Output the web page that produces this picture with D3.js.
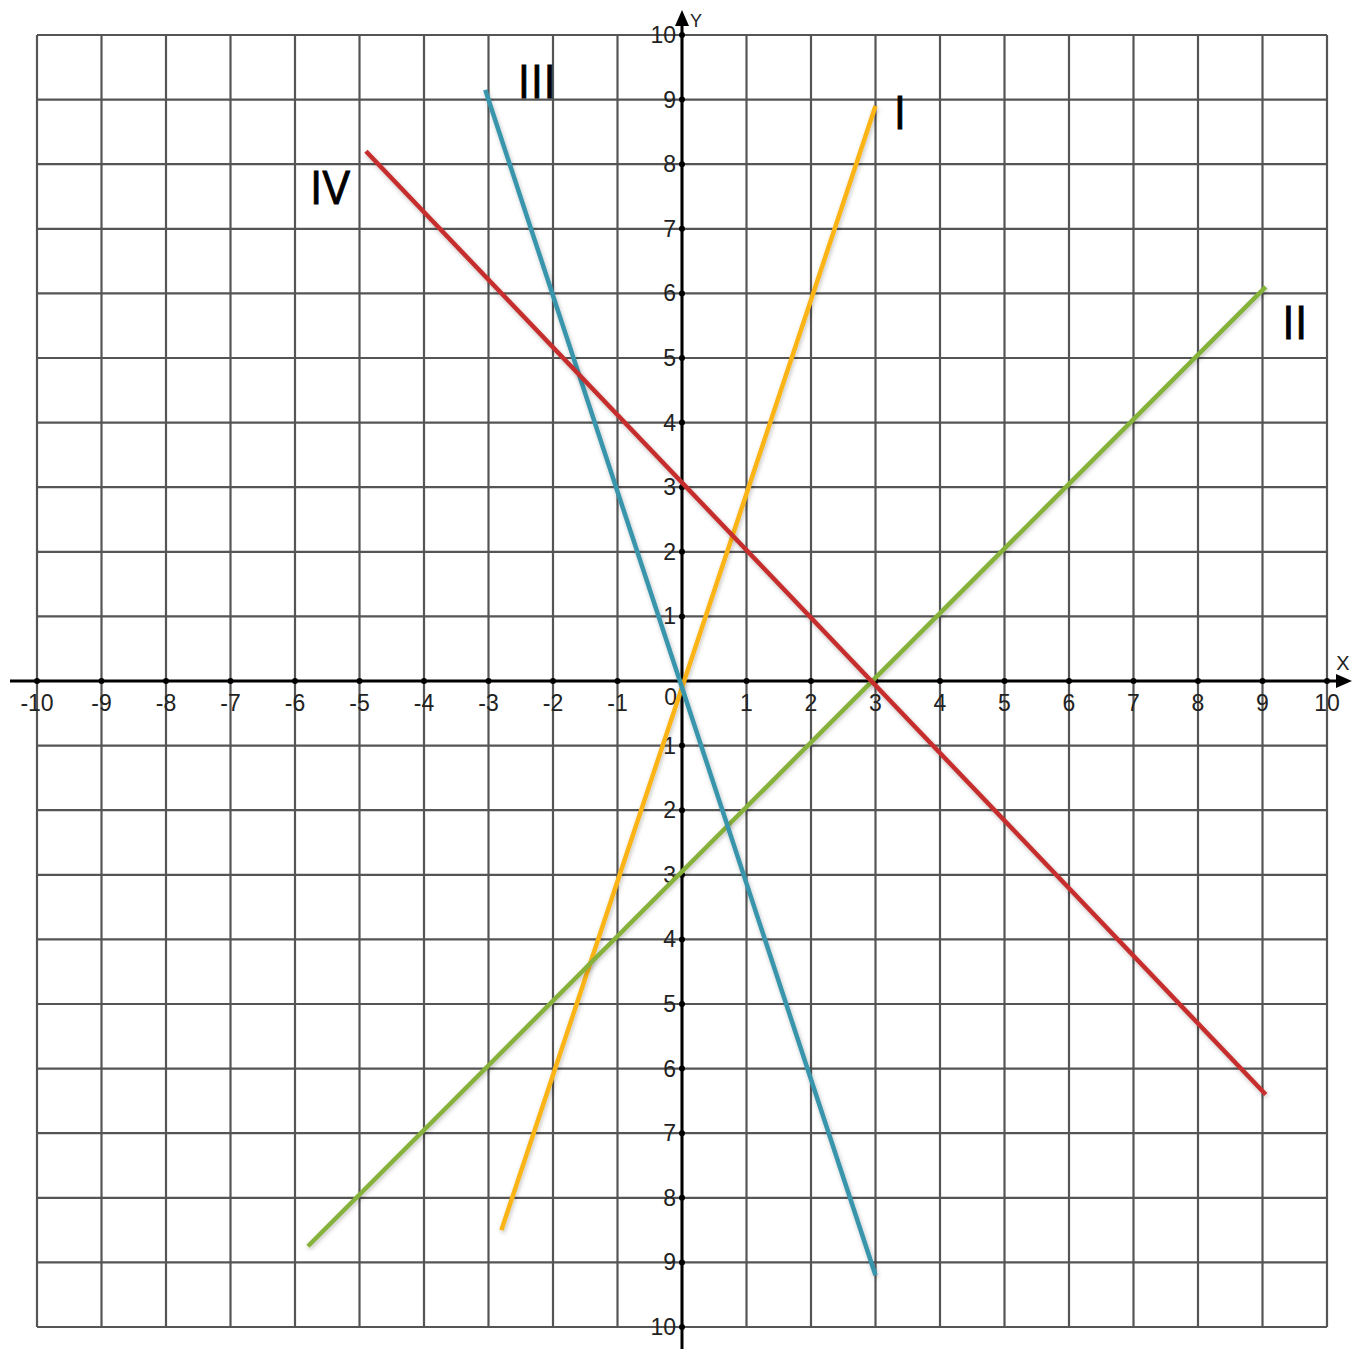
<!DOCTYPE html>
<html>
  <head>
    <meta charset="UTF-8" />
    <title>Four lines</title>
    <style>
      body { margin: 0; background: #fff; }
      .tick-label { font-family: "Liberation Sans", Arial, sans-serif; font-size: 23px; fill: #222; }
      .roman { font-family: "Open Sans", "DejaVu Sans", sans-serif; font-size: 46px; fill: #000; stroke: #000; stroke-width: 0.8px; }
    </style>
    <script src="https://d3js.org/d3.v7.min.js"></script>
  </head>
  <body>
    <svg id="viz" width="1353" height="1349"></svg>
    <script>
      // grid and ticks
      var gridValues = d3.range(-10, 11);
      var xTickLabels = ["-10","-9","-8","-7","-6","-5","-4","-3","-2","-1","1","2","3","4","5","6","7","8","9","10"];
      var xTickValues = [-10,-9,-8,-7,-6,-5,-4,-3,-2,-1,1,2,3,4,5,6,7,8,9,10];
      var yTickValues = [10,9,8,7,6,5,4,3,2,1,-1,-2,-3,-4,-5,-6,-7,-8,-9,-10];
      var yTickLabels = ["10","9","8","7","6","5","4","3","2","1","1","2","3","4","5","6","7","8","9","10"];

      // lines (endpoints in graph units)
      var lineNames = ["I", "II", "III", "IV"];
      var lineColors = ["#fbb414", "#86b13a", "#3795ab", "#c62f2f"];
      var lineStarts = [[-2.8, -8.5], [-5.8, -8.75], [-3.05, 9.15], [-4.9, 8.2]];
      var lineEnds = [[3.0, 8.9], [9.05, 6.1], [3.0, -9.2], [9.05, -6.4]];
      var labelPos = [[3.38, 8.55], [9.5, 5.29], [-2.25, 9.02], [-5.46, 7.38]];

      var svg = d3.select("#viz");
      var x = d3.scaleLinear().domain([-10, 10]).range([37, 1327]);
      var y = d3.scaleLinear().domain([-10, 10]).range([1327, 35]);

      // grid
      var grid = svg.append("g").attr("stroke", "#555").attr("stroke-width", 2.2);
      grid.selectAll("line.v").data(gridValues).enter().append("line")
        .attr("x1", d => x(d)).attr("x2", d => x(d))
        .attr("y1", y(10)).attr("y2", y(-10));
      grid.selectAll("line.h").data(gridValues).enter().append("line")
        .attr("y1", d => y(d)).attr("y2", d => y(d))
        .attr("x1", x(-10)).attr("x2", x(10));

      // tick labels
      var labels = svg.append("g");
      labels.selectAll("text.x").data(xTickValues).enter().append("text")
        .attr("class", "tick-label")
        .attr("x", d => x(d)).attr("y", y(0) + 30)
        .attr("text-anchor", "middle")
        .text((d, i) => xTickLabels[i]);
      labels.selectAll("text.y").data(yTickValues).enter().append("text")
        .attr("class", "tick-label")
        .attr("x", x(0) - 6).attr("y", d => y(d) + 8)
        .attr("text-anchor", "end")
        .text((d, i) => yTickLabels[i]);
      labels.append("text").attr("class", "tick-label")
        .attr("x", x(0) - 5).attr("y", y(0) + 24).attr("text-anchor", "end").text("0");

      // axes
      var axes = svg.append("g").attr("stroke", "#000").attr("stroke-width", 3);
      axes.append("line").attr("x1", 10).attr("x2", 1340).attr("y1", y(0)).attr("y2", y(0));
      axes.append("line").attr("x1", x(0)).attr("x2", x(0)).attr("y1", 1349).attr("y2", 22);
      svg.append("path")
        .attr("d", "M" + 1352 + "," + y(0) + "l-16,-7l0,14z").attr("fill", "#000");
      svg.append("path")
        .attr("d", "M" + x(0) + "," + 10 + "l-7,16l14,0z").attr("fill", "#000");
      svg.append("text").attr("class", "tick-label").attr("x", 1343).attr("y", 670)
        .attr("text-anchor", "middle").style("font-size", "20px").text("X");
      svg.append("text").attr("class", "tick-label").attr("x", 696).attr("y", 27)
        .attr("text-anchor", "middle").style("font-size", "18px").text("Y");

      // tick dots on axes
      svg.selectAll("circle.xt").data(gridValues).enter().append("circle")
        .attr("cx", d => x(d)).attr("cy", y(0)).attr("r", 3).attr("fill", "#000");
      svg.selectAll("circle.yt").data(gridValues).enter().append("circle")
        .attr("cx", x(0)).attr("cy", d => y(d)).attr("r", 3).attr("fill", "#000");

      // shadow filter
      var defs = svg.append("defs");
      var f = defs.append("filter").attr("id", "shadow").attr("x", "-20%").attr("y", "-20%")
        .attr("width", "140%").attr("height", "140%");
      f.append("feDropShadow").attr("dx", 1).attr("dy", 2).attr("stdDeviation", 2)
        .attr("flood-color", "#000").attr("flood-opacity", 0.25);

      // the four lines
      svg.append("g").selectAll("line.series").data(lineNames).enter().append("line")
        .attr("x1", (d, i) => x(lineStarts[i][0])).attr("y1", (d, i) => y(lineStarts[i][1]))
        .attr("x2", (d, i) => x(lineEnds[i][0])).attr("y2", (d, i) => y(lineEnds[i][1]))
        .attr("stroke", (d, i) => lineColors[i])
        .attr("stroke-width", 4.5)
        .attr("filter", "url(#shadow)");

      svg.append("g").selectAll("text.roman").data(lineNames).enter().append("text")
        .attr("class", "roman")
        .attr("x", (d, i) => x(labelPos[i][0])).attr("y", (d, i) => y(labelPos[i][1]))
        .attr("text-anchor", "middle")
        .text(d => d);
    </script>
  </body>
</html>
